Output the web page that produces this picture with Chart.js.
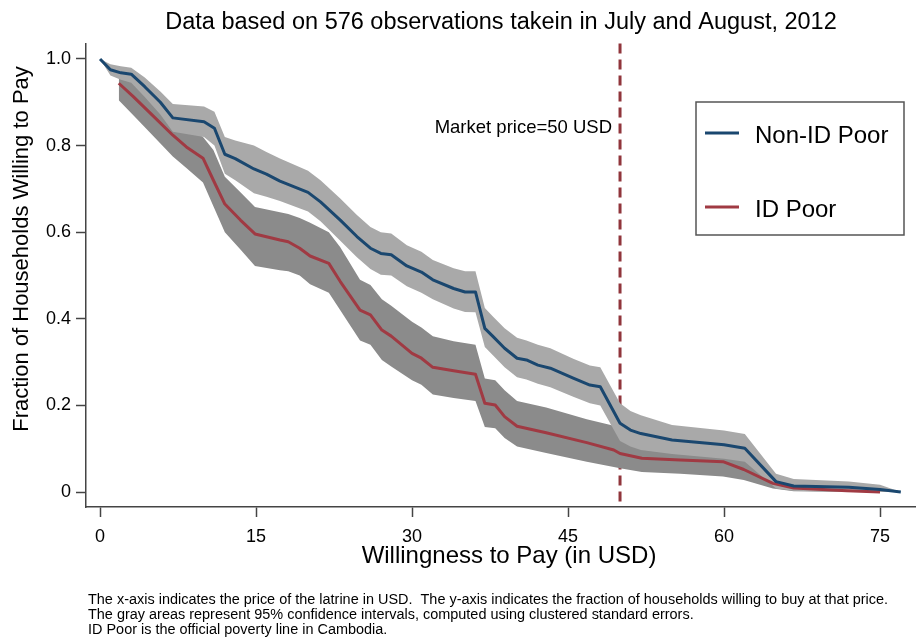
<!DOCTYPE html>
<html><head><meta charset="utf-8">
<script src="https://cdn.jsdelivr.net/npm/chart.js@4/dist/chart.umd.min.js"></script>
<style>html,body{margin:0;padding:0;background:#fff}#wrap{width:916px;height:641px;position:relative}</style>
</head><body><div id="wrap"><canvas id="c"></canvas></div>
<script>
const chartTitle = 'Data based on 576 observations takein in July and August, 2012';
const xAxisTitle = 'Willingness to Pay (in USD)';
const yAxisTitle = 'Fraction of Households Willing to Pay';
const xTicks = [0, 15, 30, 45, 60, 75];
const yTicks = [0, 0.2, 0.4, 0.6, 0.8, 1.0];
const yTickLabels = ['0', '0.2', '0.4', '0.6', '0.8', '1.0'];
const seriesNames = ['Non-ID Poor', 'ID Poor'];
const marketPrice = 50;
const marketLabel = 'Market price=50 USD';
const notes = [
  'The x-axis indicates the price of the latrine in USD.  The y-axis indicates the fraction of households willing to buy at that price.',
  'The gray areas represent 95% confidence intervals, computed using clustered standard errors.',
  'ID Poor is the official poverty line in Cambodia.'
];

const nonIdX = [0, 1, 2, 3, 4.3, 5.8, 7, 10, 11, 12, 13, 14.8, 16, 17.3, 20, 21.2, 23.1, 24.7, 26, 27, 28, 29.5, 30.9, 32, 34, 35.1, 36.1, 37, 37.8, 38.9, 40.1, 41, 42.1, 43.3, 45.5, 47.1, 48.1, 50, 51, 52, 55, 60, 62, 65, 66.7, 72, 75, 77];
const nonIdY = [1.0, 0.975, 0.968, 0.965, 0.936, 0.90, 0.864, 0.855, 0.84, 0.78, 0.77, 0.746, 0.734, 0.718, 0.692, 0.67, 0.628, 0.59, 0.563, 0.551, 0.548, 0.522, 0.508, 0.49, 0.47, 0.462, 0.462, 0.378, 0.359, 0.332, 0.309, 0.305, 0.293, 0.286, 0.263, 0.247, 0.243, 0.159, 0.143, 0.135, 0.12, 0.109, 0.101, 0.024, 0.014, 0.011, 0.006, 0.0];
const nonIdUpper = [1.0, 0.988, 0.983, 0.98, 0.957, 0.925, 0.896, 0.89, 0.878, 0.82, 0.812, 0.80, 0.785, 0.77, 0.742, 0.72, 0.678, 0.64, 0.612, 0.6, 0.597, 0.57, 0.555, 0.536, 0.517, 0.51, 0.51, 0.425, 0.405, 0.378, 0.356, 0.35, 0.34, 0.332, 0.308, 0.292, 0.288, 0.205, 0.187, 0.177, 0.155, 0.142, 0.134, 0.042, 0.03, 0.024, 0.017, 0.0];
const nonIdLower = [1.0, 0.962, 0.952, 0.945, 0.912, 0.872, 0.832, 0.82, 0.80, 0.735, 0.72, 0.69, 0.682, 0.672, 0.648, 0.625, 0.58, 0.542, 0.515, 0.502, 0.5, 0.475, 0.46, 0.445, 0.424, 0.416, 0.415, 0.335, 0.315, 0.288, 0.265, 0.26, 0.25, 0.242, 0.22, 0.205, 0.2, 0.118, 0.105, 0.097, 0.088, 0.077, 0.07, 0.008, 0.003, 0.0, 0.0, 0.0];

const idX = [1.8, 3.2, 5, 7, 8.3, 9.9, 10.9, 12, 13.5, 14.9, 17.3, 18.1, 19.2, 20.2, 22, 23.1, 25, 26, 27.1, 28, 30, 30.9, 32, 34, 36.1, 37, 38, 38.9, 40.1, 42.9, 46.8, 49.4, 50, 52.1, 55.8, 59.9, 61.9, 64.7, 66.7, 71.8, 75];
const idY = [0.944, 0.913, 0.871, 0.824, 0.797, 0.771, 0.72, 0.665, 0.628, 0.596, 0.582, 0.578, 0.563, 0.545, 0.528, 0.486, 0.42, 0.409, 0.374, 0.36, 0.32, 0.309, 0.288, 0.28, 0.272, 0.205, 0.201, 0.174, 0.152, 0.137, 0.114, 0.097, 0.089, 0.078, 0.074, 0.07, 0.052, 0.02, 0.009, 0.003, 0.0];
const idUpper = [0.968, 0.95, 0.915, 0.87, 0.845, 0.82, 0.79, 0.728, 0.692, 0.658, 0.646, 0.642, 0.633, 0.622, 0.6, 0.565, 0.49, 0.478, 0.445, 0.43, 0.393, 0.38, 0.36, 0.348, 0.34, 0.262, 0.258, 0.235, 0.21, 0.195, 0.168, 0.153, 0.148, 0.128, 0.115, 0.108, 0.085, 0.035, 0.022, 0.012, 0.004];
const idLower = [0.905, 0.87, 0.825, 0.775, 0.748, 0.715, 0.66, 0.6, 0.56, 0.522, 0.512, 0.51, 0.5, 0.48, 0.46, 0.42, 0.35, 0.34, 0.305, 0.29, 0.258, 0.248, 0.225, 0.217, 0.21, 0.15, 0.147, 0.125, 0.105, 0.09, 0.07, 0.058, 0.055, 0.046, 0.042, 0.036, 0.028, 0.008, 0.002, 0.0, 0.0];

const BLUE = '#1a476f', RED = '#a03a43', LIGHT = '#a9a9a9', DARK = '#8b8b8b', AXIS = '#444';
const FONT = '"Liberation Sans", Arial, Helvetica, sans-serif';
const pts = (xs, ys) => xs.map((x, i) => ({x: x, y: ys[i]}));

const decor = {
  id: 'decor',
  beforeDatasetsDraw(chart) {
    const ctx = chart.ctx, a = chart.chartArea, xs = chart.scales.x;
    const px = xs.getPixelForValue(marketPrice);
    ctx.save();
    ctx.strokeStyle = '#90353b'; ctx.lineWidth = 3; ctx.setLineDash([10, 6]);
    ctx.beginPath(); ctx.moveTo(px, a.top); ctx.lineTo(px, a.bottom); ctx.stroke();
    ctx.restore();
  },
  afterDraw(chart) {
    const ctx = chart.ctx, xs = chart.scales.x;
    const px = xs.getPixelForValue(marketPrice);
    ctx.save();
    ctx.fillStyle = '#000';
    ctx.font = '18.5px ' + FONT; ctx.textAlign = 'right'; ctx.textBaseline = 'middle';
    ctx.fillText(marketLabel, px - 8, 128);
    // axis titles
    ctx.font = '24px ' + FONT; ctx.textAlign = 'center';
    ctx.fillText(xAxisTitle, 509, 556);
    ctx.font = '22px ' + FONT;
    ctx.save(); ctx.translate(22, 249); ctx.rotate(-Math.PI / 2);
    ctx.fillText(yAxisTitle, 0, 0); ctx.restore();
    // legend
    ctx.fillStyle = '#fff'; ctx.fillRect(696, 102, 208, 133);
    ctx.strokeStyle = '#555'; ctx.lineWidth = 1.5; ctx.strokeRect(696, 102, 208, 133);
    const cols = [BLUE, RED], ys = [133, 207];
    ctx.lineWidth = 3;
    for (let i = 0; i < 2; i++) {
      ctx.strokeStyle = cols[i];
      ctx.beginPath(); ctx.moveTo(705, ys[i]); ctx.lineTo(739, ys[i]); ctx.stroke();
      ctx.fillStyle = '#000'; ctx.font = '24px ' + FONT; ctx.textAlign = 'left';
      ctx.fillText(seriesNames[i], 755, ys[i] + 3);
    }
    // notes
    ctx.font = '14px ' + FONT; ctx.textAlign = 'left'; ctx.fillStyle = '#000';
    const w0 = ctx.measureText(notes[0]).width;
    const sx = 800 / w0;
    const ny = [600, 615, 630];
    for (let i = 0; i < notes.length; i++) {
      ctx.save(); ctx.translate(88, ny[i]); ctx.scale(sx, 1);
      ctx.fillText(notes[i], 0, 0); ctx.restore();
    }
    ctx.restore();
  }
};

new Chart(document.getElementById('c'), {
  type: 'line',
  data: {
    datasets: [
      {label: seriesNames[0], data: pts(nonIdX, nonIdY), borderColor: BLUE, borderWidth: 3, fill: false},
      {label: seriesNames[1], data: pts(idX, idY), borderColor: RED, borderWidth: 3, fill: false},
      {label: 'nonIdUpper', data: pts(nonIdX, nonIdUpper), borderColor: 'rgba(0,0,0,0)', borderWidth: 0, fill: false},
      {label: 'nonIdLower', data: pts(nonIdX, nonIdLower), borderColor: 'rgba(0,0,0,0)', borderWidth: 0, backgroundColor: LIGHT, fill: '-1'},
      {label: 'idUpper', data: pts(idX, idUpper), borderColor: 'rgba(0,0,0,0)', borderWidth: 0, fill: false},
      {label: 'idLower', data: pts(idX, idLower), borderColor: 'rgba(0,0,0,0)', borderWidth: 0, backgroundColor: DARK, fill: '-1'}
    ]
  },
  options: {
    responsive: true, maintainAspectRatio: false, animation: false,
    layout: {padding: 0},
    elements: {point: {radius: 0, hoverRadius: 0}, line: {tension: 0, borderJoinStyle: 'round'}},
    plugins: {
      legend: {display: false}, tooltip: {enabled: false},
      title: {display: true, text: chartTitle, fullSize: false, color: '#000',
        font: {family: FONT, size: 23.5, weight: 'normal'}, padding: {top: 8, bottom: 7.2}}
    },
    scales: {
      x: {type: 'linear', min: -1.35, max: 78.46,
        afterBuildTicks: s => { s.ticks = xTicks.map(v => ({value: v})); },
        afterFit: s => { s.height = 134; },
        ticks: {font: {family: FONT, size: 18}, color: '#000', padding: 9, maxRotation: 0, autoSkip: false, callback: v => String(v)},
        grid: {drawOnChartArea: false, drawTicks: true, tickLength: 10, tickColor: AXIS, tickWidth: 1.5},
        border: {display: true, color: AXIS, width: 1.5}
      },
      y: {type: 'linear', min: -0.0346, max: 1.036,
        afterBuildTicks: s => { s.ticks = yTicks.map(v => ({value: v})); },
        afterFit: s => { s.width = 86; },
        ticks: {font: {family: FONT, size: 18}, color: '#000', padding: 5, autoSkip: false,
          callback: v => yTickLabels[yTicks.indexOf(v)]},
        grid: {drawOnChartArea: false, drawTicks: true, tickLength: 10, tickColor: AXIS, tickWidth: 1.5},
        border: {display: true, color: AXIS, width: 1.5}
      }
    }
  },
  plugins: [decor]
});
</script></body></html>
